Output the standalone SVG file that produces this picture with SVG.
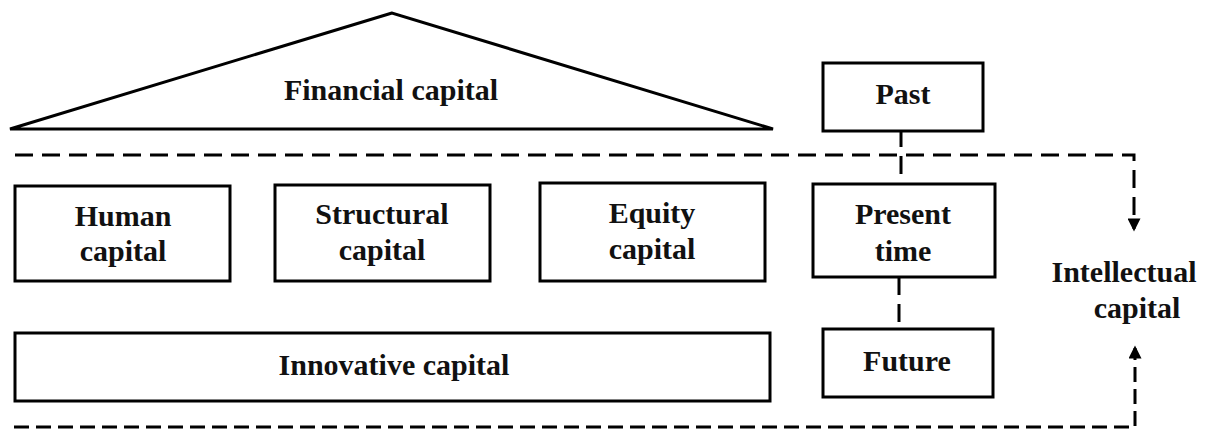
<svg xmlns="http://www.w3.org/2000/svg" width="1209" height="432" viewBox="0 0 1209 432">
<style>
.box{fill:#fff;stroke:#000;stroke-width:3}
.t{font-family:'Liberation Serif','DejaVu Serif',serif;font-weight:bold;font-size:30px;fill:#111;text-anchor:middle}
.d{fill:none;stroke:#000;stroke-width:3;stroke-dasharray:18 9}
.d2{fill:none;stroke:#000;stroke-width:3;stroke-dasharray:15 7}
</style>
<defs>
<marker id="ah" viewBox="0 0 10 10" refX="8" refY="5" markerWidth="14" markerHeight="13" markerUnits="userSpaceOnUse" orient="auto">
<path d="M0,0 L10,5 L0,10 Z" fill="#000"/>
</marker>
</defs>
<g id="connectors">
<path class="d" d="M15,155 H1134 V229" marker-end="url(#ah)"/>
<path class="d2" d="M14,427 H1135 V348" marker-end="url(#ah)"/>
<path class="d" d="M901,131 V184" stroke-dashoffset="2"/>
<path class="d" d="M899,277 V329" stroke-dasharray="18 10 15 10"/>
</g>
<g id="financial">
<polygon class="box" points="392,13 10,129 773,129"/>
<text class="t" x="391" y="100">Financial capital</text>
</g>
<g id="human">
<rect class="box" x="15" y="186" width="215" height="95"/>
<text class="t" x="123" y="226">Human</text>
<text class="t" x="123" y="261">capital</text>
</g>
<g id="structural">
<rect class="box" x="275" y="185" width="215" height="96"/>
<text class="t" x="382" y="224">Structural</text>
<text class="t" x="382" y="260">capital</text>
</g>
<g id="equity">
<rect class="box" x="540" y="183" width="225" height="98"/>
<text class="t" x="652" y="223">Equity</text>
<text class="t" x="652" y="259">capital</text>
</g>
<g id="innovative">
<rect class="box" x="15" y="333" width="755" height="68"/>
<text class="t" x="394" y="375">Innovative capital</text>
</g>
<g id="past">
<rect class="box" x="823" y="63" width="160" height="68"/>
<text class="t" x="903" y="104">Past</text>
</g>
<g id="present">
<rect class="box" x="813" y="184" width="182" height="93"/>
<text class="t" x="903" y="224">Present</text>
<text class="t" x="903" y="261">time</text>
</g>
<g id="future">
<rect class="box" x="823" y="329" width="170" height="68"/>
<text class="t" x="907" y="371">Future</text>
</g>
<g id="intellectual">
<text class="t" x="1124" y="282">Intellectual</text>
<text class="t" x="1137" y="318">capital</text>
</g>
</svg>
